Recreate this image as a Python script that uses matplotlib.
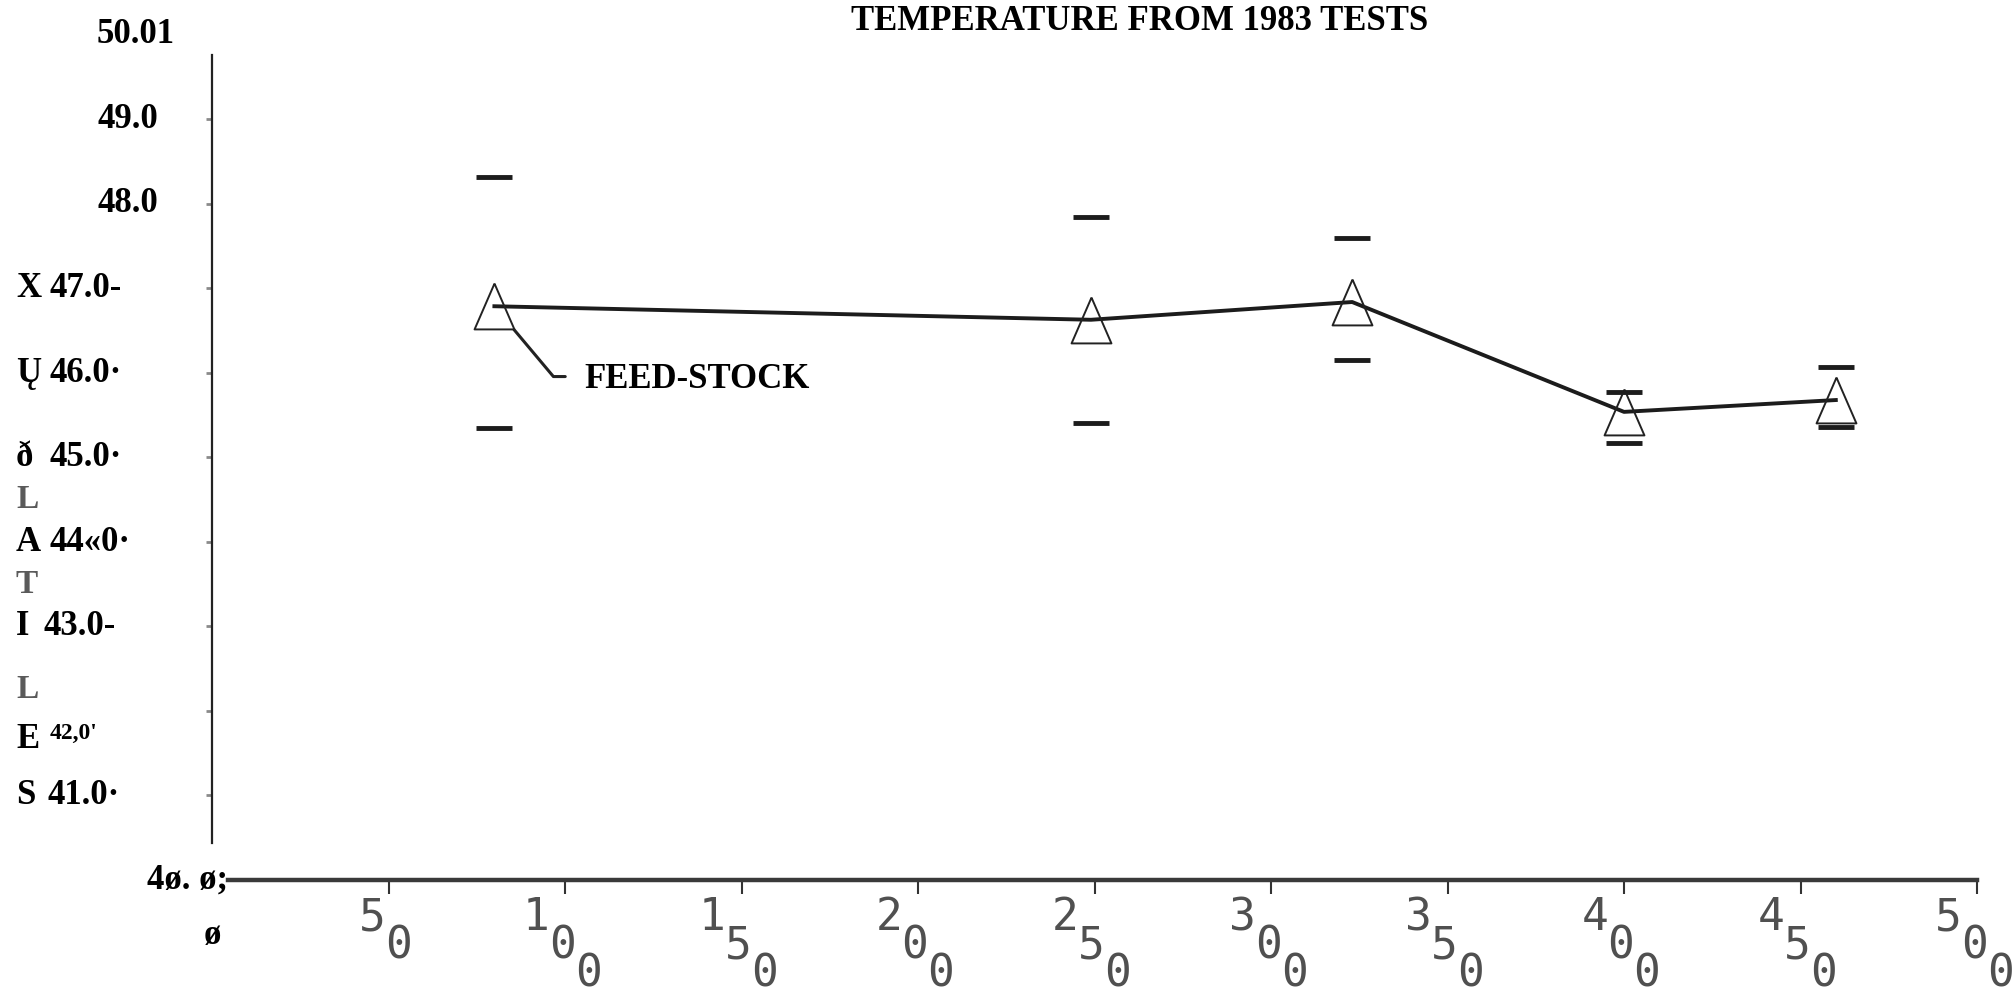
import matplotlib
matplotlib.use("Agg")
import matplotlib.pyplot as plt
from matplotlib.transforms import blended_transform_factory, ScaledTranslation

# ---------------- data ----------------
test_x = [80, 249, 323, 400, 460]
mean_temp = [46.79, 46.63, 46.84, 45.54, 45.68]
upper_temp = [48.32, 47.85, 47.60, 45.78, 46.07]
lower_temp = [45.35, 45.41, 46.15, 45.17, 45.36]

x_ticks = [50, 100, 150, 200, 250, 300, 350, 400, 450, 500]
x_tick_labels = ["50", "100", "150", "200", "250", "300", "350", "400", "450", "500"]

y_ticks = [50, 49, 48, 47, 46, 45, 44, 43, 42, 41, 40]
y_tick_labels = ["50.01", "49.0", "48.0", "47.0-", "46.0·", "45.0·", "44«0·",
                 "43.0-", "42,0'", "41.0·", "4ø. ø;"]
y_label_left_px = [97, 97, 98, 50, 50, 50, 50, 43, 50, 47, 147]

axis_letters = ["X", "Ų", "ð", "A", "I", "E", "S"]
axis_letter_ticks = [47, 46, 45, 44, 43, 42, 41]
gray_letters = ["L", "T", "L"]
gray_letter_y_px = [499, 584, 690]

title = "TEMPERATURE FROM 1983 TESTS"
annotation = "FEED-STOCK"

# ---------------- figure ----------------
W, H, DPI = 2016, 1005, 100
fig = plt.figure(figsize=(W / DPI, H / DPI), dpi=DPI)
fig.patch.set_facecolor("white")

ax_left, ax_right = 212 / W, 1977 / W
ax_bottom, ax_top = (H - 880) / H, (H - 35) / H
ax = fig.add_axes([ax_left, ax_bottom, ax_right - ax_left, ax_top - ax_bottom])
ax.set_xlim(0, 500)
ax.set_ylim(40, 50)
ax.set_facecolor("white")

serif = "Liberation Serif"
mono = "DejaVu Sans Mono"

# spines
for s in ("top", "right"):
    ax.spines[s].set_visible(False)
ax.spines["left"].set_bounds(40.44, 49.76)
ax.spines["left"].set_linewidth(1.6)
ax.spines["left"].set_color("#222222")
ax.spines["bottom"].set_bounds(4.5, 500)
ax.spines["bottom"].set_linewidth(3.2)
ax.spines["bottom"].set_color("#3a3a3a")

ax.set_xticks(x_ticks)
ax.tick_params(axis="x", direction="out", length=10, width=1.5, color="#333333",
               labelbottom=False)
ax.set_yticks(y_ticks[1:-1])
ax.tick_params(axis="y", direction="out", length=4, width=2, color="#8a8a8a",
               labelleft=False)

# ---------------- marks ----------------
ax.plot(test_x, mean_temp, color="#1c1c1c", lw=2.8, zorder=2)
tri = [(0, 1), (-0.87, -1), (0.87, -1), (0, 1)]
ax.plot(test_x, mean_temp, linestyle="none", marker=tri, markersize=33,
        markerfacecolor="none", markeredgecolor="#222222", markeredgewidth=1.4,
        zorder=3)
ax.plot(test_x, upper_temp, linestyle="none", marker="_", markersize=26,
        markeredgewidth=3.5, color="#1c1c1c", zorder=3)
ax.plot(test_x, lower_temp, linestyle="none", marker="_", markersize=26,
        markeredgewidth=3.5, color="#1c1c1c", zorder=3)

# FEED-STOCK annotation
ax.annotate(annotation, xy=(test_x[0], mean_temp[0]), xytext=(65, -53),
            textcoords="offset points", ha="left", va="center",
            fontsize=25, fontweight="bold", family=serif, color="black",
            arrowprops=dict(arrowstyle="-", color="#222222", lw=2.2,
                            connectionstyle="angle,angleA=0,angleB=-50,rad=0",
                            relpos=(0, 0.6), shrinkA=12, shrinkB=22))

# ---------------- y tick labels ----------------
bt = blended_transform_factory(fig.transFigure, ax.transData)
for val, lab, lx in zip(y_ticks, y_tick_labels, y_label_left_px):
    size = 25
    off = 0
    if lab.startswith("42"):
        size, off = 17, -22
    tr = bt + ScaledTranslation(0, off / DPI, fig.dpi_scale_trans)
    ax.text(lx / W, val, lab, transform=tr, ha="left", va="center",
            fontsize=size, fontweight="bold", family=serif, color="black",
            clip_on=False)

for val, lab in zip(axis_letter_ticks, axis_letters):
    off = -28 if lab == "E" else 0
    tr = bt + ScaledTranslation(0, off / DPI, fig.dpi_scale_trans)
    ax.text(16 / W, val, lab, transform=tr, ha="left", va="center",
            fontsize=25, fontweight="bold", family=serif, color="black",
            clip_on=False)

for lab, py in zip(gray_letters, gray_letter_y_px):
    fig.text(16 / W, 1 - py / H, lab, ha="left", va="center", fontsize=24,
             fontweight="bold", family=serif, color="#5a5a5a")

# zero label of x axis
tr0 = ax.transData + ScaledTranslation(0, -55 / DPI, fig.dpi_scale_trans)
ax.text(0, 40, "ø", transform=tr0, ha="center", va="center", fontsize=25,
        fontweight="bold", family=serif, color="black", clip_on=False)

# ---------------- x tick labels (staggered dot-matrix digits) ----------------
bx = blended_transform_factory(ax.transData, ax.transAxes)
for val, lab in zip(x_ticks, x_tick_labels):
    n = len(lab)
    for i, ch in enumerate(lab):
        dx = ((i - (n - 1) / 2) * 26 - 3) / DPI
        dy = -(16 + 28 * i) / DPI
        tr = bx + ScaledTranslation(dx, dy, fig.dpi_scale_trans)
        ax.text(val, 0, ch, transform=tr, ha="center", va="top", fontsize=32,
                family=mono, color="#505050", clip_on=False)

# ---------------- title ----------------
fig.text(1140 / W, 1 - 22 / H, title, ha="center", va="center", fontsize=25,
         fontweight="bold", family=serif, color="black")

fig.savefig("out.png", dpi=DPI, facecolor="white")
